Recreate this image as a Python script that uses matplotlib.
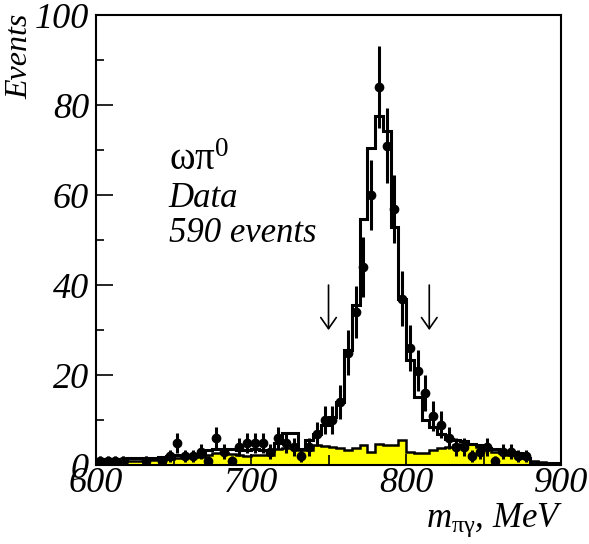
import numpy as np
from matplotlib import pyplot as plt

# 5 MeV bins from 600 to 900 MeV
edges = np.linspace(600, 900, 61)

# data counts per bin
data = [1, 1, 1, 1, 0, 0, 1, 0, 1, 2,
        5, 2, 2, 3, 1, 6, 3, 1, 4, 5,
        5, 5, 3, 6, 5, 4, 2, 4, 7, 10,
        10, 14, 25, 34, 44, 60, 84, 71, 57, 37,
        26, 21, 16, 11, 9, 6, 4, 4, 2, 3,
        4, 1, 3, 3, 2, 2, 0, 0, 0, 0]

# total simulation (signal + background)
total = [1.3, 1.3, 1.3, 1.3, 1.5, 1.5, 1.5, 1.6, 1.8, 2.0,
         2.2, 2.2, 2.3, 2.5, 3.3, 3.5, 3.6, 3.6, 3.4, 3.4,
         3.5, 3.3, 3.3, 4.9, 7.2, 7.2, 3.5, 5.5, 7.0, 9.0,
         10.7, 14.0, 25.6, 35.5, 54.6, 70.4, 77.6, 74.2, 53.0, 37.0,
         23.3, 15.2, 10.0, 8.5, 7.0, 5.9, 5.6, 5.4, 4.6, 4.4,
         3.8, 3.6, 3.0, 3.0, 2.6, 1.5, 0.6, 0.5, 0.5, 0.5]

# background (yellow)
background = [0.6, 0.6, 0.6, 0.7, 0.9, 1.0, 1.1, 1.1, 1.2, 1.4,
              1.5, 1.7, 1.8, 1.9, 2.3, 2.6, 2.6, 2.4, 2.2, 2.1,
              2.2, 2.3, 2.2, 3.6, 3.8, 3.7, 3.3, 3.4, 4.4, 4.3,
              4.1, 3.9, 3.3, 3.7, 4.4, 3.0, 4.6, 4.4, 4.4, 5.6,
              3.0, 2.7, 2.8, 3.3, 3.7, 4.1, 4.4, 4.8, 4.6, 4.1,
              3.8, 3.0, 2.6, 2.2, 1.8, 1.5, 1.0, 0.7, 0.2, 0.2]

# selection cuts
cut_x = [750, 815]

plt.rcParams['font.family'] = ['Liberation Serif', 'DejaVu Serif']
plt.rcParams['font.style'] = 'italic'
plt.rcParams['mathtext.fontset'] = 'custom'
plt.rcParams['mathtext.rm'] = 'Liberation Serif:style=normal'
plt.rcParams['mathtext.it'] = 'Liberation Serif:style=italic'
plt.rcParams['mathtext.default'] = 'it'

fig = plt.figure(figsize=(5.89, 5.44), dpi=100)
ax = fig.add_axes([0.163, 0.145, 0.7895, 0.8274])

ax.stairs(background, edges, fill=True, color='#ffff00', zorder=1)
ax.stairs(background, edges, color='black', lw=1.8, zorder=2)
ax.stairs(total, edges, color='black', lw=2.2, zorder=3)

centers = 0.5 * (edges[:-1] + edges[1:])
counts = np.array(data, dtype=float)
mask = counts > 0
ax.errorbar(centers[mask], counts[mask], yerr=np.sqrt(counts[mask]),
            fmt='o', color='black', markersize=6, elinewidth=2.2,
            capsize=0, zorder=4)

for xc in cut_x:
    ax.annotate('', xy=(xc, 30), xytext=(xc, 40),
                arrowprops=dict(arrowstyle='->,head_width=0.28,head_length=0.4',
                                mutation_scale=20, lw=1.2, color='black',
                                shrinkA=0, shrinkB=0))

ax.set_xlim(600, 900)
ax.set_ylim(0, 100)
ax.set_xticks([600, 700, 800, 900])
ax.set_xticks([650, 750, 850], minor=True)
ax.set_yticks([0, 20, 40, 60, 80, 100])
ax.set_yticks([10, 30, 50, 70, 90], minor=True)
ax.tick_params(axis='both', which='both', direction='in', width=1.2,
               labelsize=26, top=False, right=False)
ax.tick_params(axis='y', which='major', length=12, pad=5)
ax.tick_params(axis='y', which='minor', length=6)
ax.tick_params(axis='x', which='major', length=8, pad=1)
ax.tick_params(axis='x', which='minor', length=7)
for sp in ax.spines.values():
    sp.set_linewidth(1.5)

ax.text(647, 65.5, r'$\mathrm{\omega\pi}^{0}$', fontsize=28)
ax.text(647, 57.3, 'Data', fontsize=25)
ax.text(647, 49.5, '590 events', fontsize=25)

fig.text(20 / 589, 1 - 14 / 544, 'Events', rotation=90, ha='center', va='top',
         fontsize=23)
fig.text(563 / 589, 1 - 527 / 544, r'$m_{\mathrm{\pi\gamma}}$, MeV', ha='right',
         va='baseline', fontsize=25)

fig.savefig('out.png', dpi=100)
